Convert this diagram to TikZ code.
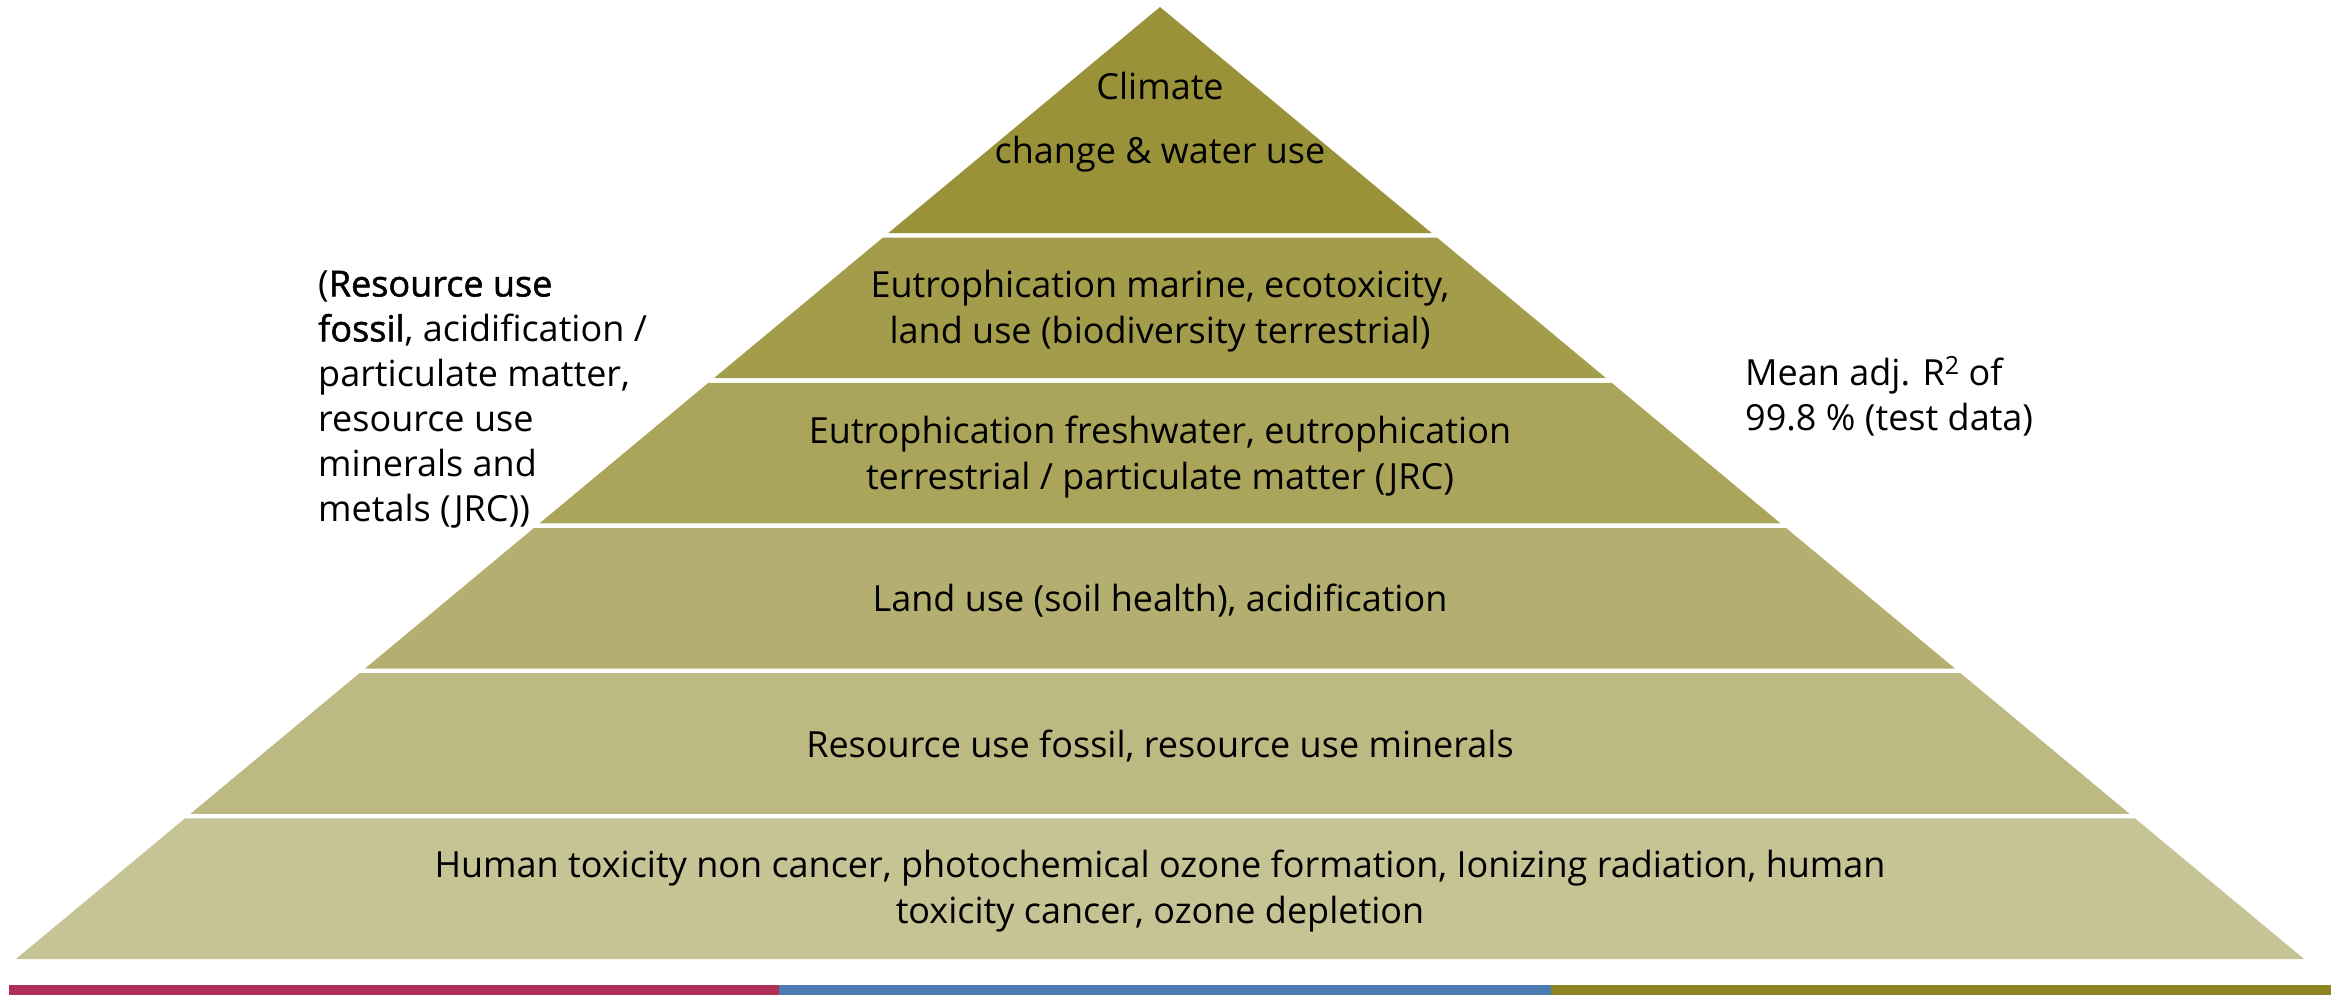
\documentclass[tikz,border=0pt]{standalone}
\usepackage{fontspec}
\setmainfont{Open Sans}
\newfontfamily\heavyfont[FakeBold=1.4]{Open Sans}
\definecolor{tierA}{HTML}{9A9239}
\definecolor{tierB}{HTML}{A39C4B}
\definecolor{tierC}{HTML}{ABA55C}
\definecolor{tierD}{HTML}{B4AF71}
\definecolor{tierE}{HTML}{BDB982}
\definecolor{tierF}{HTML}{C6C395}
\definecolor{barRed}{HTML}{AE3058}
\definecolor{barBlue}{HTML}{4B7BB1}
\definecolor{barOlive}{HTML}{8C8522}
\tikzset{
  tiertext/.style={align=center, inner sep=0pt, text=black,
    font=\fontsize{36}{46}\selectfont},
  sidetext/.style={align=left, inner sep=0pt, text=black,
    font=\fontsize{36}{45}\selectfont},
}
\begin{document}
\begin{tikzpicture}[x=1pt,y=-1pt]
\useasboundingbox (0,0) rectangle (2331,995);
% pyramid tiers: apex at (1160,7), sides with slope 1.2017
\def\apx{1160}
\def\slope{1.2017}
\foreach \t/\b/\c in {7/233/tierA, 237.6/378.2/tierB, 382.8/523.4/tierC,
                      528/668.6/tierD, 673.2/813.8/tierE, 818.4/959/tierF}{
  \fill[\c] ({\apx-(\t-7)*\slope},\t) -- ({\apx+(\t-7)*\slope},\t)
        -- ({\apx+(\b-7)*\slope},\b) -- ({\apx-(\b-7)*\slope},\b) -- cycle;
}
% tier labels
\node[tiertext] (tA) at (1160,122.5) {Climate\\[18pt]change \& water use};
\node[tiertext] (tB) at (1160,311.5) {Eutrophication marine, ecotoxicity,\\land use (biodiversity terrestrial)};
\node[tiertext] (tC) at (1160,457.5) {Eutrophication freshwater, eutrophication\\terrestrial / particulate matter (JRC)};
\node[tiertext] (tD) at (1160,600.5) {Land use (soil health), acidification};
\node[tiertext] (tE) at (1160,746) {Resource use fossil, resource use minerals};
\node[tiertext] (tF) at (1160,891.5) {Human toxicity non cancer, photochemical ozone formation, Ionizing radiation, human\\toxicity cancer, ozone depletion};
% side notes
\node[sidetext, anchor=west] (left) at (318,399.5) {({\heavyfont Resource use}\\{\heavyfont fossil}, acidification /\\particulate matter,\\resource use\\minerals and\\metals (JRC))};
\node[sidetext, anchor=west] (right) at (1745,396) {Mean adj. R\raisebox{0.3em}{\fontsize{25}{25}\selectfont 2} of\\99.8 \% (test data)};
% colour strip at the foot
\fill[barRed]   (9,985) rectangle (779,995);
\fill[barBlue]  (779,985) rectangle (1551,995);
\fill[barOlive] (1551,985) rectangle (2331,995);
\end{tikzpicture}
\end{document}
